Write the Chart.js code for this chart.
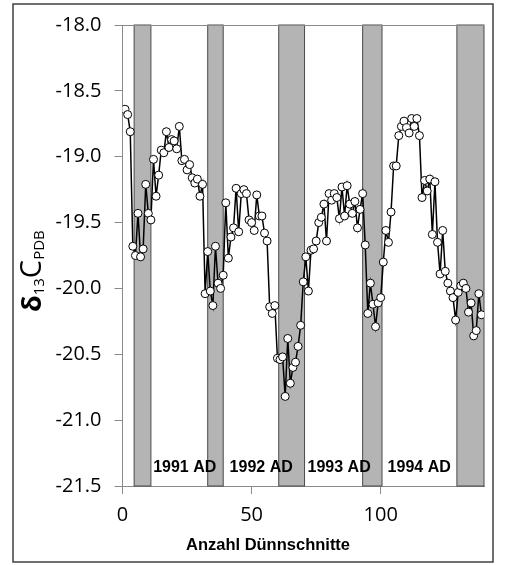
<!DOCTYPE html>
<html>
<head>
<meta charset="utf-8">
<script src="https://cdn.jsdelivr.net/npm/chart.js@4.4.0/dist/chart.umd.min.js"></script>
<style>
    html, body { margin: 0; padding: 0; background: #fff; }
</style>
</head>
<body>
<canvas id="myChart" width="506" height="565"></canvas>
<script>
// Nummer des Dünnschnitts
const schnitte = [
    1, 2, 3, 4, 5, 6, 7, 8, 9, 10,
    11, 12, 13, 14, 15, 16, 17, 18, 19, 20,
    21, 22, 23, 24, 25, 26, 27, 28, 29, 30,
    31, 32, 33, 34, 35, 36, 37, 38, 39, 40,
    41, 42, 43, 44, 45, 46, 47, 48, 49, 50,
    51, 52, 53, 54, 55, 56, 57, 58, 59, 60,
    61, 62, 63, 64, 65, 66, 67, 68, 69, 70,
    71, 72, 73, 74, 75, 76, 77, 78, 79, 80,
    81, 82, 83, 84, 85, 86, 87, 88, 89, 90,
    91, 92, 93, 94, 95, 96, 97, 98, 99, 100,
    101, 102, 103, 104, 105, 106, 107, 108, 109, 110,
    111, 112, 113, 114, 115, 116, 117, 118, 119, 120,
    121, 122, 123, 124, 125, 126, 127, 128, 129, 130,
    131, 132, 133, 134, 135, 136, 137, 138, 139
];

// delta 13C Werte (PDB)
const delta13C = [
    -18.64, -18.68, -18.81, -19.68, -19.75, -19.43, -19.76, -19.70, -19.21, -19.43,
    -19.48, -19.02, -19.30, -19.14, -18.95, -18.97, -18.81, -18.93, -18.87, -18.88,
    -18.94, -18.77, -19.03, -19.02, -19.10, -19.06, -19.16, -19.20, -19.17, -19.30,
    -19.21, -20.04, -19.72, -20.02, -20.13, -19.68, -19.96, -20.00, -19.90, -19.35,
    -19.77, -19.61, -19.54, -19.24, -19.57, -19.28, -19.25, -19.28, -19.48, -19.50,
    -19.56, -19.29, -19.45, -19.45, -19.58, -19.64, -20.14, -20.19, -20.13, -20.53,
    -20.54, -20.52, -20.82, -20.38, -20.72, -20.60, -20.56, -20.44, -20.28, -19.95,
    -19.76, -20.02, -19.71, -19.70, -19.64, -19.50, -19.46, -19.36, -19.64, -19.28,
    -19.33, -19.28, -19.31, -19.47, -19.23, -19.45, -19.22, -19.36, -19.43, -19.34,
    -19.54, -19.40, -19.28, -19.67, -20.19, -19.96, -20.12, -20.29, -20.11, -20.07,
    -19.80, -19.56, -19.65, -19.42, -19.07, -19.07, -18.84, -18.77, -18.73, -18.78,
    -18.82, -18.71, -18.77, -18.71, -18.84, -19.31, -19.18, -19.26, -19.17, -19.59,
    -19.19, -19.65, -19.89, -19.56, -19.87, -19.96, -20.02, -20.07, -20.24, -20.03,
    -19.98, -19.96, -20.00, -20.18, -20.11, -20.36, -20.32, -20.04, -20.20
];

// grau hinterlegte Bereiche (Anfang / Ende in Dünnschnitten)
const bandStart = [4.5, 33, 60.5, 93, 129.5];
const bandEnd = [11, 39, 70.5, 100.5, 140];

// Jahresbeschriftung
const yearLabels = ['1991 AD', '1992 AD', '1993 AD', '1994 AD'];
const yearLabelX = [24.1, 53.7, 83.9, 114.9];
const yearLabelY = -21.36;

// Achsenbeschriftung
const xTicks = [0, 50, 100];
const yTicks = [-21.5, -21.0, -20.5, -20.0, -19.5, -19.0, -18.5, -18.0];
const xTitle = 'Anzahl Dünnschnitte';

const axisGray = '#8a8a8a';

//Plugin: graue Balken hinter den Daten
const bandPlugin = {
    id: 'bands',
    beforeDatasetsDraw(chart) {
        const { ctx, chartArea, scales } = chart;
        const xs = scales.x;
        ctx.save();
        for (let i = 0; i < bandStart.length; i++) {
            const x1 = xs.getPixelForValue(bandStart[i]);
            const x2 = xs.getPixelForValue(bandEnd[i]);
            ctx.fillStyle = '#b4b4b4';
            ctx.fillRect(x1, chartArea.top, x2 - x1, chartArea.bottom - chartArea.top);
            ctx.strokeStyle = '#4a4a4a';
            ctx.lineWidth = 1;
            ctx.strokeRect(x1, chartArea.top, x2 - x1, chartArea.bottom - chartArea.top);
        }
        // obere Linie
        ctx.strokeStyle = axisGray;
        ctx.beginPath();
        ctx.moveTo(chartArea.left, chartArea.top + 0.5);
        ctx.lineTo(chartArea.right, chartArea.top + 0.5);
        ctx.stroke();
        // Jahreszahlen
        ctx.fillStyle = '#000';
        ctx.font = 'bold 16px "Liberation Sans", Arial, sans-serif';
        ctx.textAlign = 'center';
        ctx.textBaseline = 'middle';
        for (let i = 0; i < yearLabels.length; i++) {
            ctx.fillText(yearLabels[i], xs.getPixelForValue(yearLabelX[i]), scales.y.getPixelForValue(yearLabelY));
        }
        ctx.restore();
    },
    afterDraw(chart) {
        const { ctx } = chart;
        ctx.save();
        // Rahmen
        ctx.strokeStyle = '#404040';
        ctx.lineWidth = 1.5;
        ctx.strokeRect(13, 4, 480, 558);
        // x Titel
        ctx.fillStyle = '#000';
        ctx.font = 'bold 16.5px "Liberation Sans", Arial, sans-serif';
        ctx.textAlign = 'center';
        ctx.textBaseline = 'middle';
        ctx.fillText(xTitle, 268, 545);
        // y Titel: δ13C PDB (gedreht)
        ctx.translate(41, 312);
        ctx.rotate(-Math.PI / 2);
        ctx.textAlign = 'left';
        ctx.textBaseline = 'alphabetic';
        let pos = 0;
        const parts = [
            { t: 'δ', f: 'bold 27px "Open Sans", sans-serif', dy: 0 },
            { t: '13', f: '15px "Open Sans", sans-serif', dy: 3 },
            { t: 'C', f: '29px "Open Sans", sans-serif', dy: 0 },
            { t: 'PDB', f: '15px "Open Sans", sans-serif', dy: 3 }
        ];
        parts.forEach(p => {
            ctx.font = p.f;
            ctx.fillText(p.t, pos, p.dy);
            pos += ctx.measureText(p.t).width;
        });
        ctx.restore();
    }
};

new Chart(document.getElementById('myChart'), {
    type: 'line',
    data: {
        datasets: [
            {
                data: schnitte.map((x, i) => ({ x: x, y: delta13C[i] })),
                borderColor: '#000',
                borderWidth: 1.5,
                pointRadius: 4,
                pointBackgroundColor: '#fff',
                pointBorderColor: '#000',
                pointBorderWidth: 1,
                tension: 0
            }
        ]
    },
    options: {
        responsive: false,
        animation: false,
        events: [],
        layout: { padding: { left: 0, right: 22, top: 24, bottom: 0 } },
        plugins: { legend: { display: false }, tooltip: { enabled: false } },
        scales: {
            x: {
                type: 'linear',
                min: 0,
                max: 140,
                afterBuildTicks: axis => { axis.ticks = xTicks.map(v => ({ value: v })); },
                afterFit: axis => { axis.height = 79; },
                border: { display: true, color: axisGray, width: 1 },
                grid: { drawOnChartArea: false, drawTicks: true, tickLength: 8, color: axisGray },
                ticks: {
                    color: '#000',
                    font: { family: 'Open Sans', size: 20 },
                    padding: 9,
                    maxRotation: 0,
                    autoSkip: false
                }
            },
            y: {
                min: -21.5,
                max: -18.0,
                afterBuildTicks: axis => { axis.ticks = yTicks.map(v => ({ value: v })); },
                afterFit: axis => { axis.width = 122.5; },
                border: { display: true, color: axisGray, width: 1 },
                grid: { drawOnChartArea: false, drawTicks: true, tickLength: 8, color: axisGray },
                ticks: {
                    color: '#000',
                    font: { family: 'Open Sans', size: 20 },
                    padding: 13,
                    callback: v => v.toFixed(1)
                }
            }
        }
    },
    plugins: [bandPlugin]
});
</script>
</body>
</html>
